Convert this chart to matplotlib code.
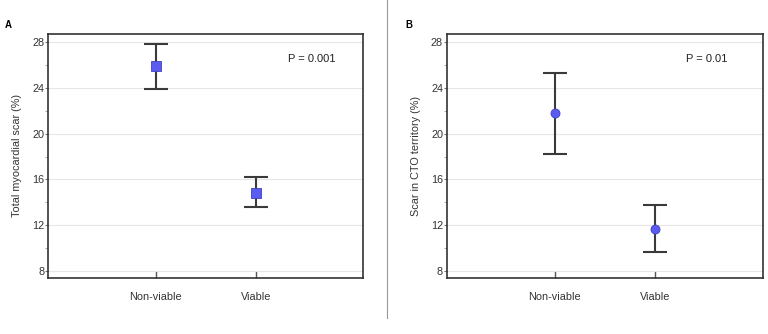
import matplotlib
matplotlib.use("Agg")
import matplotlib.pyplot as plt
from matplotlib.ticker import MultipleLocator

plt.rcParams['font.family'] = ['Liberation Sans', 'DejaVu Sans']

groups = ['Non-viable', 'Viable']

# panel A: total myocardial scar (%)
a_mean = [25.9, 14.85]
a_low = [23.9, 13.6]
a_high = [27.85, 16.2]

# panel B: scar in CTO territory (%)
b_mean = [21.78, 11.69]
b_low = [18.23, 9.67]
b_high = [25.35, 13.73]

yticks = [8, 12, 16, 20, 24, 28]

fig = plt.figure(figsize=(7.68, 3.34), dpi=100)

def panel(rect, mean, low, high, marker, ylabel, ptext, px, letter, letter_x):
    ax = fig.add_axes(rect)
    x = [1, 2]
    err = [[m - l for m, l in zip(mean, low)], [h - m for m, h in zip(mean, high)]]
    ax.errorbar(x, mean, yerr=err, fmt='none', ecolor='#3a3a3a', elinewidth=1.5,
                capsize=8.5, capthick=1.5, zorder=2)
    ax.plot(x, mean, linestyle='none', marker=marker, markersize=6.5,
            markerfacecolor='#5b5bf0', markeredgecolor='#4040c0', markeredgewidth=0.6, zorder=3)
    ax.set_xlim(-0.07, 3.07)
    ax.set_ylim(7.4, 28.7)
    ax.set_xticks(x)
    ax.set_xticklabels(groups, fontsize=7.8, color='#333333')
    ax.set_yticks(yticks)
    ax.set_yticklabels([str(t) for t in yticks], fontsize=7.8, color='#333333')
    ax.yaxis.set_minor_locator(MultipleLocator(2))
    ax.tick_params(axis='x', direction='in', length=5, width=1, color='#555555', pad=10)
    ax.tick_params(axis='y', which='major', direction='out', length=2, width=0.8, color='#777777', pad=1)
    ax.tick_params(axis='y', which='minor', direction='out', length=2, width=0.6, color='#999999')
    ax.grid(axis='y', which='major', color='#e6e6e6', linewidth=0.8, zorder=0)
    ax.set_axisbelow(True)
    for s in ax.spines.values():
        s.set_color('#333333')
        s.set_linewidth(1.2)
    ax.set_ylabel(ylabel, fontsize=7.8, color='#333333', labelpad=7)
    ax.text(px, 0.898, ptext, transform=ax.transAxes, ha='right', va='center',
            fontsize=8, color='#222222')
    fig.text(letter_x, 0.925, letter, fontsize=7, fontweight='bold', ha='left', va='center')
    return ax

panel([0.0629, 0.1686, 0.4098, 0.7287], a_mean, a_low, a_high, 's',
      'Total myocardial scar (%)', 'P = 0.001', 0.914, 'A', 0.006)
panel([0.5824, 0.1686, 0.4111, 0.7287], b_mean, b_low, b_high, 'o',
      'Scar in CTO territory (%)', 'P = 0.01', 0.886, 'B', 0.528)

# divider between the panels
fig.add_artist(plt.Line2D([0.504, 0.504], [0.048, 1.0], color='#999999', linewidth=0.8,
                          transform=fig.transFigure))

fig.savefig('out.png', dpi=100, facecolor='white')
